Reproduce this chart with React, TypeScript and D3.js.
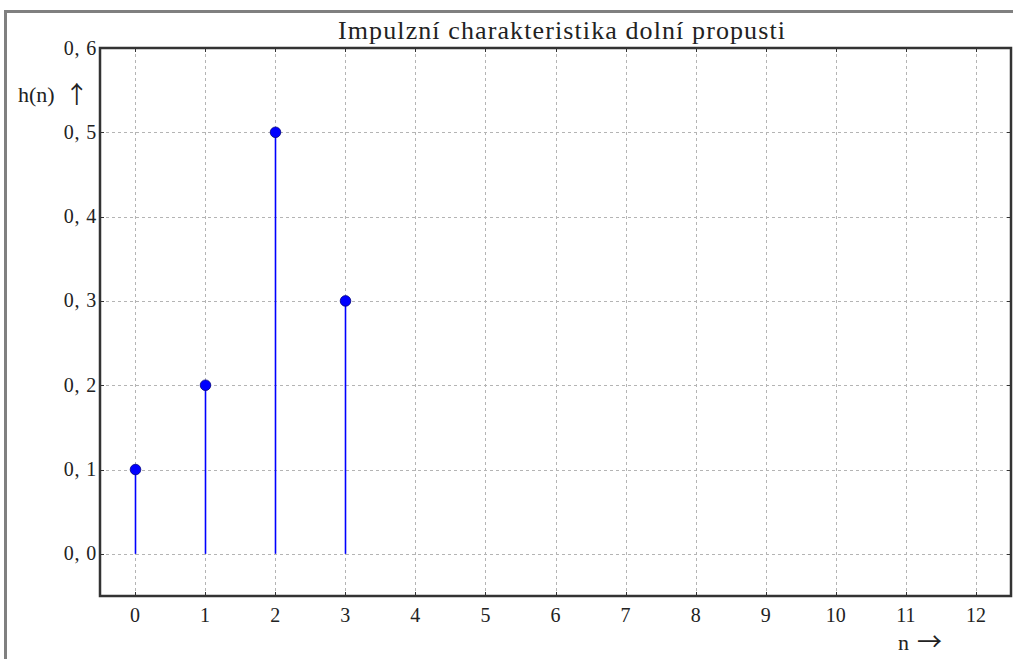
import React, { useEffect, useRef } from "react";
import * as d3 from "d3";

// data
const nValues = [0, 1, 2, 3];
const hValues = [0.1, 0.2, 0.5, 0.3];
const xTicks = [0, 1, 2, 3, 4, 5, 6, 7, 8, 9, 10, 11, 12];
const yTicks = [0, 0.1, 0.2, 0.3, 0.4, 0.5, 0.6];
const title = "Impulzní charakteristika dolní propusti";

const W = 1013;
const H = 659;

export default function App() {
  const ref = useRef<SVGSVGElement>(null);

  useEffect(() => {
    const svg = d3.select(ref.current);
    svg.selectAll("*").remove();

    const left = 100, right = 1011, top = 48, bottom = 596;
    const font = "'Liberation Serif', serif";
    const arrowFont = "'Noto Sans CJK JP', sans-serif";

    const x = d3.scaleLinear().domain([-0.5, 12.5]).range([left, right]);
    const y = d3.scaleLinear().domain([-0.05, 0.6]).range([bottom, top]);

    // outer gray frame (only left and top visible)
    svg.append("path")
      .attr("d", `M5.5,${H} L5.5,11.5 L${W},11.5`)
      .attr("fill", "none")
      .attr("stroke", "#808080")
      .attr("stroke-width", 3);

    // grid
    const grid = svg.append("g")
      .attr("stroke", "#b4b4b4")
      .attr("stroke-width", 1)
      .attr("stroke-dasharray", "3,3");
    grid.selectAll("line.gx").data(xTicks).enter().append("line")
      .attr("x1", d => Math.round(x(d)) + 0.5).attr("x2", d => Math.round(x(d)) + 0.5)
      .attr("y1", top).attr("y2", bottom);
    grid.selectAll("line.gy").data(yTicks).enter().append("line")
      .attr("y1", d => Math.round(y(d)) + 0.5).attr("y2", d => Math.round(y(d)) + 0.5)
      .attr("x1", left).attr("x2", right);

    // stems
    svg.append("g").selectAll("line").data(nValues).enter().append("line")
      .attr("x1", d => Math.round(x(d)) + 0.5).attr("x2", d => Math.round(x(d)) + 0.5)
      .attr("y1", y(0)).attr("y2", (d, i) => y(hValues[i]))
      .attr("stroke", "#0000ff")
      .attr("stroke-width", 1.6);

    // markers
    svg.append("g").selectAll("circle").data(nValues).enter().append("circle")
      .attr("cx", d => Math.round(x(d)) + 0.5)
      .attr("cy", (d, i) => y(hValues[i]))
      .attr("r", 5.3)
      .attr("fill", "#0000ff")
      .attr("stroke", "#000080")
      .attr("stroke-width", 0.8);

    // ticks (inward, all sides)
    const tk = svg.append("g").attr("stroke", "#333").attr("stroke-width", 1);
    xTicks.forEach(d => {
      const px = Math.round(x(d)) + 0.5;
      tk.append("line").attr("x1", px).attr("x2", px).attr("y1", bottom).attr("y2", bottom - 4);
      tk.append("line").attr("x1", px).attr("x2", px).attr("y1", top).attr("y2", top + 4);
    });
    yTicks.forEach(d => {
      const py = Math.round(y(d)) + 0.5;
      tk.append("line").attr("y1", py).attr("y2", py).attr("x1", left).attr("x2", left + 4);
      tk.append("line").attr("y1", py).attr("y2", py).attr("x1", right).attr("x2", right - 4);
    });

    // spines
    svg.append("rect")
      .attr("x", left).attr("y", top)
      .attr("width", right - left).attr("height", bottom - top)
      .attr("fill", "none")
      .attr("stroke", "#333")
      .attr("stroke-width", 2.5);

    // tick labels
    const fmtY = (d: number) => d3.format(".1f")(d).replace(".", ", ");
    svg.append("g").selectAll("text").data(xTicks).enter().append("text")
      .attr("x", d => x(d))
      .attr("y", bottom + 26)
      .attr("text-anchor", "middle")
      .attr("font-family", font)
      .attr("font-size", 20)
      .attr("fill", "#222")
      .text(d => String(d));
    svg.append("g").selectAll("text").data(yTicks).enter().append("text")
      .attr("x", left - 3)
      .attr("y", d => y(d) + 6.5)
      .attr("text-anchor", "end")
      .attr("font-family", font)
      .attr("font-size", 20)
      .attr("letter-spacing", 0.8)
      .attr("fill", "#222")
      .text(d => fmtY(d));

    // title
    svg.append("text")
      .attr("x", 338)
      .attr("y", 39)
      .attr("textLength", 447)
      .attr("lengthAdjust", "spacing")
      .attr("font-family", font)
      .attr("font-size", 26)
      .attr("fill", "#222")
      .text(title);

    // axis labels
    const yl = svg.append("text")
      .attr("x", 18)
      .attr("y", 102)
      .attr("font-family", font)
      .attr("font-size", 22)
      .attr("fill", "#222");
    yl.append("tspan").text("h(n)");
    yl.append("tspan").attr("dx", 10).attr("font-family", arrowFont)
      .attr("font-size", 24).attr("dy", 1).text("↑");

    const xl = svg.append("text")
      .attr("x", 898)
      .attr("y", 650)
      .attr("font-family", font)
      .attr("font-size", 22)
      .attr("fill", "#222");
    xl.append("tspan").text("n");
    xl.append("tspan").attr("dx", 8).attr("font-family", arrowFont)
      .attr("font-size", 25).attr("dy", 1).text("→");
  }, []);

  return (
    <svg
      ref={ref}
      width={W}
      height={H}
      style={{ position: "absolute", left: 0, top: 0, background: "#fff" }}
    />
  );
}
